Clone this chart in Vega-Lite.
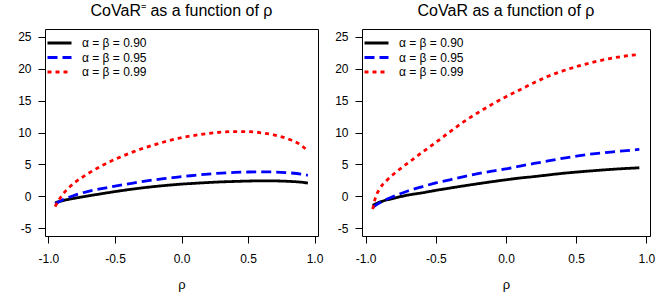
{
  "$schema": "https://vega.github.io/schema/vega-lite/v6.json",
  "padding": {"left": 17, "top": 2, "right": 5, "bottom": 5},
  "background": "white",
  "bounds": "flush",
  "spacing": 44,
  "config": {
    "view": {"stroke": "black", "strokeWidth": 1},
    "font": "Liberation Sans",
    "axis": {"grid": false, "domain": false, "tickColor": "black", "tickSize": 7, "tickWidth": 1,
             "labelFont": "Liberation Sans", "labelFontSize": 12, "labelColor": "black",
             "titleFont": "Liberation Sans", "titleFontSize": 13, "titleFontWeight": "normal", "titleColor": "black"},
    "title": {"font": "Liberation Sans", "fontSize": 16, "fontWeight": "normal", "color": "black", "baseline": "alphabetic", "offset": 10, "anchor": "middle"},
    "legend": {"labelFont": "Liberation Sans", "labelFontSize": 12, "labelColor": "black"}
  },
  "datasets": {
    "left": [
      {"rho": -0.95, "s": "α = β = 0.90", "v": -1.0}, {"rho": -0.9, "s": "α = β = 0.90", "v": -0.7}, {"rho": -0.8, "s": "α = β = 0.90", "v": -0.28}, {"rho": -0.7, "s": "α = β = 0.90", "v": 0.08}, {"rho": -0.6, "s": "α = β = 0.90", "v": 0.42}, {"rho": -0.5, "s": "α = β = 0.90", "v": 0.75}, {"rho": -0.4, "s": "α = β = 0.90", "v": 1.05}, {"rho": -0.3, "s": "α = β = 0.90", "v": 1.32}, {"rho": -0.2, "s": "α = β = 0.90", "v": 1.55}, {"rho": -0.1, "s": "α = β = 0.90", "v": 1.75}, {"rho": 0.0, "s": "α = β = 0.90", "v": 1.92}, {"rho": 0.1, "s": "α = β = 0.90", "v": 2.05}, {"rho": 0.2, "s": "α = β = 0.90", "v": 2.17}, {"rho": 0.3, "s": "α = β = 0.90", "v": 2.27}, {"rho": 0.4, "s": "α = β = 0.90", "v": 2.34}, {"rho": 0.5, "s": "α = β = 0.90", "v": 2.4}, {"rho": 0.6, "s": "α = β = 0.90", "v": 2.43}, {"rho": 0.7, "s": "α = β = 0.90", "v": 2.42}, {"rho": 0.8, "s": "α = β = 0.90", "v": 2.36}, {"rho": 0.9, "s": "α = β = 0.90", "v": 2.22}, {"rho": 0.95, "s": "α = β = 0.90", "v": 2.08},
      {"rho": -0.95, "s": "α = β = 0.95", "v": -1.2}, {"rho": -0.9, "s": "α = β = 0.95", "v": -0.6}, {"rho": -0.8, "s": "α = β = 0.95", "v": 0.2}, {"rho": -0.7, "s": "α = β = 0.95", "v": 0.8}, {"rho": -0.6, "s": "α = β = 0.95", "v": 1.2}, {"rho": -0.5, "s": "α = β = 0.95", "v": 1.6}, {"rho": -0.4, "s": "α = β = 0.95", "v": 1.95}, {"rho": -0.3, "s": "α = β = 0.95", "v": 2.3}, {"rho": -0.2, "s": "α = β = 0.95", "v": 2.6}, {"rho": -0.1, "s": "α = β = 0.95", "v": 2.85}, {"rho": 0.0, "s": "α = β = 0.95", "v": 3.1}, {"rho": 0.1, "s": "α = β = 0.95", "v": 3.3}, {"rho": 0.2, "s": "α = β = 0.95", "v": 3.5}, {"rho": 0.3, "s": "α = β = 0.95", "v": 3.65}, {"rho": 0.4, "s": "α = β = 0.95", "v": 3.75}, {"rho": 0.5, "s": "α = β = 0.95", "v": 3.82}, {"rho": 0.6, "s": "α = β = 0.95", "v": 3.85}, {"rho": 0.7, "s": "α = β = 0.95", "v": 3.82}, {"rho": 0.8, "s": "α = β = 0.95", "v": 3.7}, {"rho": 0.9, "s": "α = β = 0.95", "v": 3.5}, {"rho": 0.95, "s": "α = β = 0.95", "v": 3.3},
      {"rho": -0.95, "s": "α = β = 0.99", "v": -1.6}, {"rho": -0.93, "s": "α = β = 0.99", "v": -0.85}, {"rho": -0.9, "s": "α = β = 0.99", "v": 0.1}, {"rho": -0.85, "s": "α = β = 0.99", "v": 1.3}, {"rho": -0.8, "s": "α = β = 0.99", "v": 2.2}, {"rho": -0.7, "s": "α = β = 0.99", "v": 3.6}, {"rho": -0.6, "s": "α = β = 0.99", "v": 4.8}, {"rho": -0.5, "s": "α = β = 0.99", "v": 5.8}, {"rho": -0.4, "s": "α = β = 0.99", "v": 6.67}, {"rho": -0.3, "s": "α = β = 0.99", "v": 7.45}, {"rho": -0.2, "s": "α = β = 0.99", "v": 8.1}, {"rho": -0.1, "s": "α = β = 0.99", "v": 8.7}, {"rho": 0.0, "s": "α = β = 0.99", "v": 9.2}, {"rho": 0.1, "s": "α = β = 0.99", "v": 9.55}, {"rho": 0.2, "s": "α = β = 0.99", "v": 9.85}, {"rho": 0.3, "s": "α = β = 0.99", "v": 10.05}, {"rho": 0.4, "s": "α = β = 0.99", "v": 10.15}, {"rho": 0.5, "s": "α = β = 0.99", "v": 10.15}, {"rho": 0.6, "s": "α = β = 0.99", "v": 9.95}, {"rho": 0.7, "s": "α = β = 0.99", "v": 9.6}, {"rho": 0.8, "s": "α = β = 0.99", "v": 9.0}, {"rho": 0.9, "s": "α = β = 0.99", "v": 8.0}, {"rho": 0.95, "s": "α = β = 0.99", "v": 7.1}
    ],
    "right": [
      {"rho": -0.95, "s": "α = β = 0.90", "v": -1.4}, {"rho": -0.9, "s": "α = β = 0.90", "v": -0.9}, {"rho": -0.8, "s": "α = β = 0.90", "v": -0.3}, {"rho": -0.7, "s": "α = β = 0.90", "v": 0.2}, {"rho": -0.6, "s": "α = β = 0.90", "v": 0.55}, {"rho": -0.5, "s": "α = β = 0.90", "v": 0.94}, {"rho": -0.4, "s": "α = β = 0.90", "v": 1.3}, {"rho": -0.3, "s": "α = β = 0.90", "v": 1.65}, {"rho": -0.2, "s": "α = β = 0.90", "v": 1.98}, {"rho": -0.1, "s": "α = β = 0.90", "v": 2.3}, {"rho": 0.0, "s": "α = β = 0.90", "v": 2.6}, {"rho": 0.1, "s": "α = β = 0.90", "v": 2.88}, {"rho": 0.2, "s": "α = β = 0.90", "v": 3.1}, {"rho": 0.3, "s": "α = β = 0.90", "v": 3.35}, {"rho": 0.4, "s": "α = β = 0.90", "v": 3.6}, {"rho": 0.5, "s": "α = β = 0.90", "v": 3.8}, {"rho": 0.6, "s": "α = β = 0.90", "v": 3.98}, {"rho": 0.7, "s": "α = β = 0.90", "v": 4.15}, {"rho": 0.8, "s": "α = β = 0.90", "v": 4.3}, {"rho": 0.9, "s": "α = β = 0.90", "v": 4.42}, {"rho": 0.95, "s": "α = β = 0.90", "v": 4.48},
      {"rho": -0.95, "s": "α = β = 0.95", "v": -1.7}, {"rho": -0.9, "s": "α = β = 0.95", "v": -1.0}, {"rho": -0.8, "s": "α = β = 0.95", "v": 0.0}, {"rho": -0.7, "s": "α = β = 0.95", "v": 0.85}, {"rho": -0.6, "s": "α = β = 0.95", "v": 1.5}, {"rho": -0.5, "s": "α = β = 0.95", "v": 2.1}, {"rho": -0.4, "s": "α = β = 0.95", "v": 2.6}, {"rho": -0.3, "s": "α = β = 0.95", "v": 3.1}, {"rho": -0.2, "s": "α = β = 0.95", "v": 3.55}, {"rho": -0.1, "s": "α = β = 0.95", "v": 3.95}, {"rho": 0.0, "s": "α = β = 0.95", "v": 4.3}, {"rho": 0.1, "s": "α = β = 0.95", "v": 4.75}, {"rho": 0.2, "s": "α = β = 0.95", "v": 5.15}, {"rho": 0.3, "s": "α = β = 0.95", "v": 5.55}, {"rho": 0.4, "s": "α = β = 0.95", "v": 5.95}, {"rho": 0.5, "s": "α = β = 0.95", "v": 6.3}, {"rho": 0.6, "s": "α = β = 0.95", "v": 6.6}, {"rho": 0.7, "s": "α = β = 0.95", "v": 6.85}, {"rho": 0.8, "s": "α = β = 0.95", "v": 7.05}, {"rho": 0.9, "s": "α = β = 0.95", "v": 7.25}, {"rho": 0.95, "s": "α = β = 0.95", "v": 7.35},
      {"rho": -0.95, "s": "α = β = 0.99", "v": -2.0}, {"rho": -0.93, "s": "α = β = 0.99", "v": -0.2}, {"rho": -0.9, "s": "α = β = 0.99", "v": 1.2}, {"rho": -0.85, "s": "α = β = 0.99", "v": 2.5}, {"rho": -0.8, "s": "α = β = 0.99", "v": 3.5}, {"rho": -0.7, "s": "α = β = 0.99", "v": 5.2}, {"rho": -0.6, "s": "α = β = 0.99", "v": 6.85}, {"rho": -0.5, "s": "α = β = 0.99", "v": 8.45}, {"rho": -0.4, "s": "α = β = 0.99", "v": 10.1}, {"rho": -0.3, "s": "α = β = 0.99", "v": 11.7}, {"rho": -0.2, "s": "α = β = 0.99", "v": 13.1}, {"rho": -0.1, "s": "α = β = 0.99", "v": 14.4}, {"rho": 0.0, "s": "α = β = 0.99", "v": 15.6}, {"rho": 0.1, "s": "α = β = 0.99", "v": 16.7}, {"rho": 0.2, "s": "α = β = 0.99", "v": 17.8}, {"rho": 0.3, "s": "α = β = 0.99", "v": 18.8}, {"rho": 0.4, "s": "α = β = 0.99", "v": 19.6}, {"rho": 0.5, "s": "α = β = 0.99", "v": 20.3}, {"rho": 0.6, "s": "α = β = 0.99", "v": 20.9}, {"rho": 0.7, "s": "α = β = 0.99", "v": 21.4}, {"rho": 0.8, "s": "α = β = 0.99", "v": 21.8}, {"rho": 0.9, "s": "α = β = 0.99", "v": 22.1}, {"rho": 0.95, "s": "α = β = 0.99", "v": 22.2}
    ]
  },
  "resolve": {
    "scale": {"x": "independent", "y": "independent", "color": "independent", "strokeDash": "independent"},
    "legend": {"color": "independent", "strokeDash": "independent"}
  },
  "hconcat": [
    {
      "title": "CoVaR⁼ as a function of ρ",
      "width": 273, "height": 207,
      "data": {"name": "left"},
      "mark": {"type": "line", "strokeWidth": 2.8, "strokeCap": "butt", "interpolate": "monotone", "clip": true},
      "encoding": {
        "x": {"field": "rho", "type": "quantitative", "title": "ρ",
              "scale": {"domain": [-1.026, 1.026], "nice": false, "zero": false},
              "axis": {"values": [-1, -0.5, 0, 0.5, 1], "labelExpr": "replace(format(datum.value, '.1f'), '−', '-')", "labelPadding": 10, "titlePadding": 14, "labelFlush": false}},
        "y": {"field": "v", "type": "quantitative", "title": null,
              "scale": {"domain": [-6.2, 26.2], "nice": false, "zero": false},
              "axis": {"values": [-5, 0, 5, 10, 15, 20, 25], "labelExpr": "replace(datum.label, '−', '-')", "labelPadding": 7}},
        "color": {"field": "s", "type": "nominal", "sort": null,
                  "scale": {"domain": ["α = β = 0.90", "α = β = 0.95", "α = β = 0.99"], "range": ["#000000", "#0000ff", "#ff0000"]},
                  "legend": {"title": null, "orient": "none", "legendX": 1, "legendY": 8, "symbolType": "stroke", "symbolSize": 576, "symbolStrokeWidth": 2.8, "clipHeight": 12, "rowPadding": 2.5, "labelOffset": 9, "padding": 0, "labelFontSize": 12}},
        "strokeDash": {"field": "s", "type": "nominal", "sort": null,
                  "scale": {"domain": ["α = β = 0.90", "α = β = 0.95", "α = β = 0.99"], "range": [[1, 0], [10, 5], [4, 4]]},
                  "legend": {"title": null, "orient": "none", "legendX": 1, "legendY": 8, "symbolType": "stroke", "symbolSize": 576, "symbolStrokeWidth": 2.8, "clipHeight": 12, "rowPadding": 2.5, "labelOffset": 9, "padding": 0, "labelFontSize": 12}}
      }
    },
    {
      "title": "CoVaR as a function of ρ",
      "width": 288, "height": 207,
      "data": {"name": "right"},
      "mark": {"type": "line", "strokeWidth": 2.8, "strokeCap": "butt", "interpolate": "monotone", "clip": true},
      "encoding": {
        "x": {"field": "rho", "type": "quantitative", "title": "ρ",
              "scale": {"domain": [-1.026, 1.026], "nice": false, "zero": false},
              "axis": {"values": [-1, -0.5, 0, 0.5, 1], "labelExpr": "replace(format(datum.value, '.1f'), '−', '-')", "labelPadding": 10, "titlePadding": 14, "labelFlush": false}},
        "y": {"field": "v", "type": "quantitative", "title": null,
              "scale": {"domain": [-6.2, 26.2], "nice": false, "zero": false},
              "axis": {"values": [-5, 0, 5, 10, 15, 20, 25], "labelExpr": "replace(datum.label, '−', '-')", "labelPadding": 7}},
        "color": {"field": "s", "type": "nominal", "sort": null,
                  "scale": {"domain": ["α = β = 0.90", "α = β = 0.95", "α = β = 0.99"], "range": ["#000000", "#0000ff", "#ff0000"]},
                  "legend": {"title": null, "orient": "none", "legendX": 1, "legendY": 8, "symbolType": "stroke", "symbolSize": 576, "symbolStrokeWidth": 2.8, "clipHeight": 12, "rowPadding": 2.5, "labelOffset": 9, "padding": 0, "labelFontSize": 12}},
        "strokeDash": {"field": "s", "type": "nominal", "sort": null,
                  "scale": {"domain": ["α = β = 0.90", "α = β = 0.95", "α = β = 0.99"], "range": [[1, 0], [10, 5], [4, 4]]},
                  "legend": {"title": null, "orient": "none", "legendX": 1, "legendY": 8, "symbolType": "stroke", "symbolSize": 576, "symbolStrokeWidth": 2.8, "clipHeight": 12, "rowPadding": 2.5, "labelOffset": 9, "padding": 0, "labelFontSize": 12}}
      }
    }
  ]
}
